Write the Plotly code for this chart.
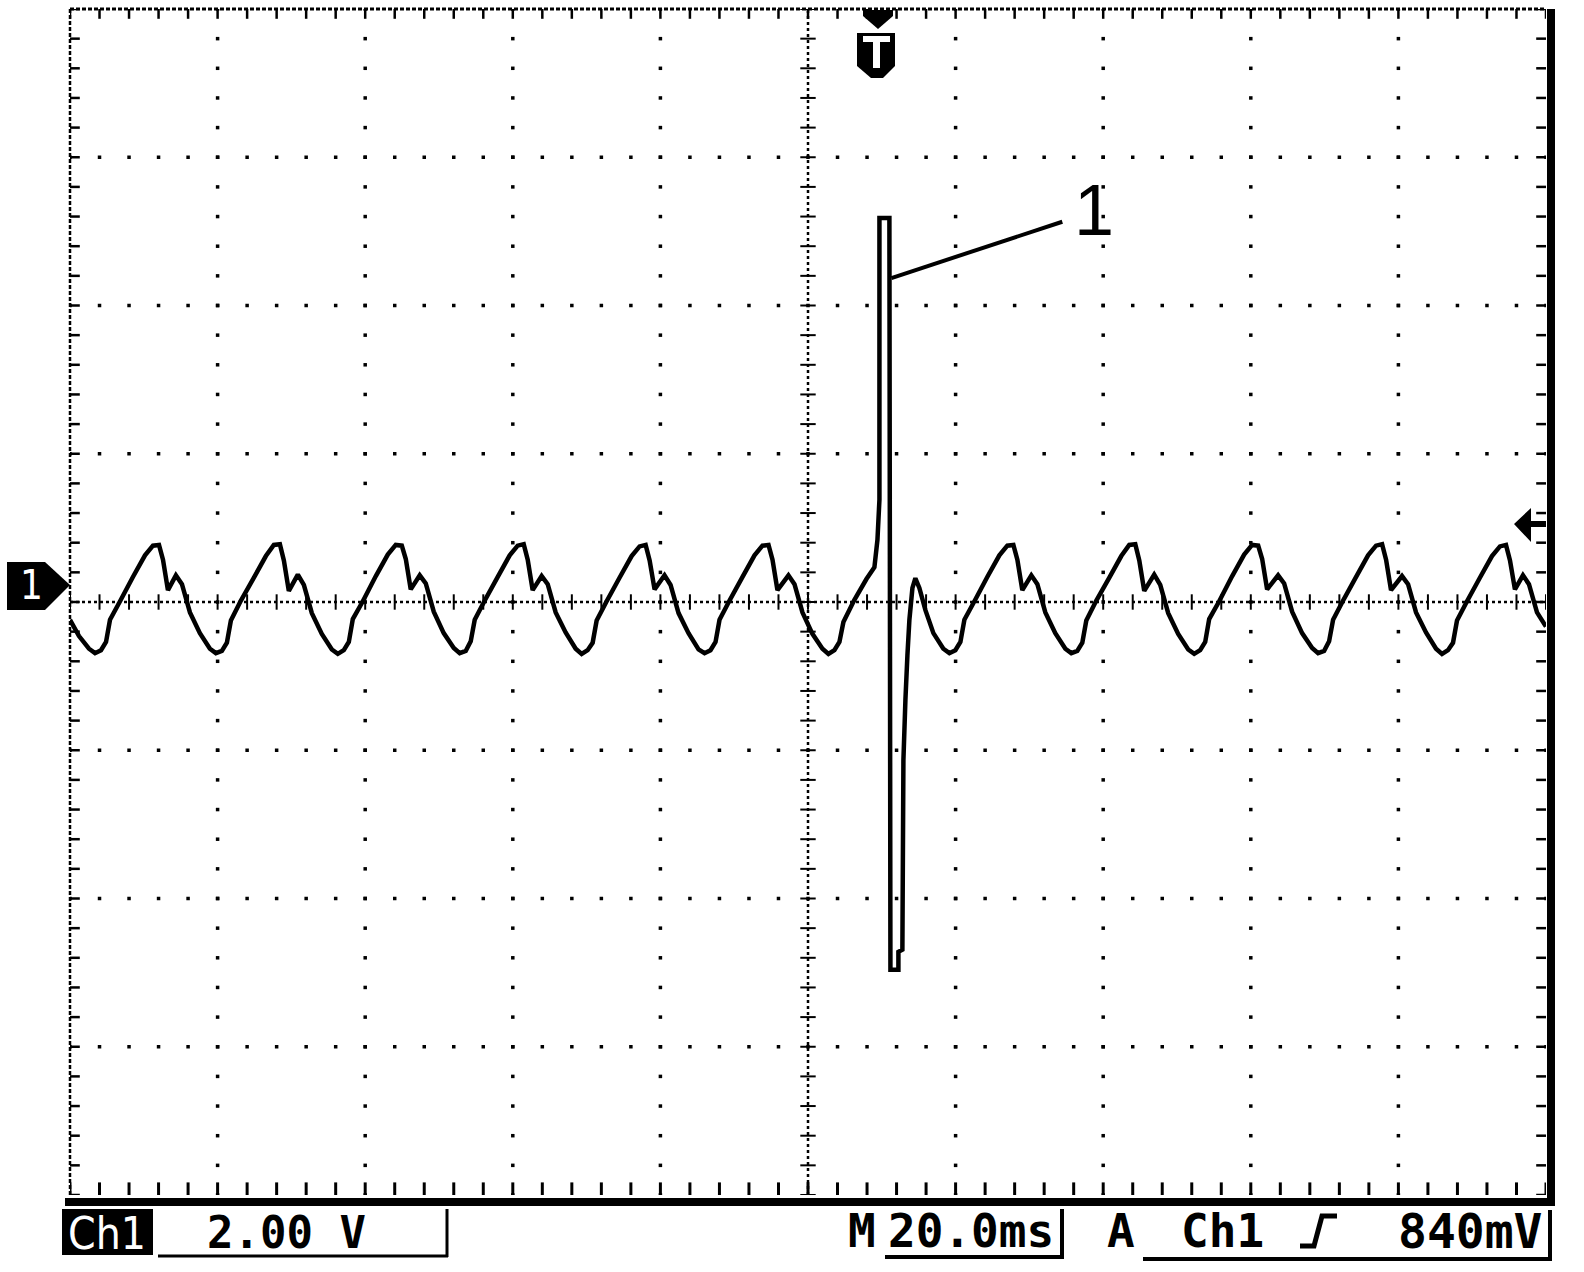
import plotly.graph_objects as go

TIME_DIV_MS = 20.0      # "M 20.0ms"
VOLT_DIV_V = 2.0        # "Ch1 2.00 V"
N_DIV_X = 10
N_DIV_Y = 8

# Channel 1 trace: time (ms from left edge of screen) and voltage (V)
t_ms = [
    0.00, 1.22, 2.57, 3.39,
    4.20, 4.88, 5.42, 6.78, 8.54, 10.16, 11.24, 12.06, 12.60, 13.27,
    14.35, 15.17, 16.25, 17.60, 18.96, 19.77,
    20.58, 21.26, 21.80, 23.16, 24.92, 26.54, 27.62, 28.44, 28.98, 29.65,
    30.87, 31.69, 32.77, 34.12, 35.48, 36.29,
    37.10, 37.78, 38.32, 39.68, 41.44, 43.06, 44.14, 44.96, 45.50, 46.17,
    47.39, 48.21, 49.29, 50.64, 52.00, 52.81,
    53.62, 54.30, 54.84, 56.20, 57.96, 59.58, 60.66, 61.48, 62.02, 62.69,
    63.91, 64.73, 65.81, 67.16, 68.52, 69.33,
    70.14, 70.82, 71.36, 72.72, 74.48, 76.10, 77.18, 78.00, 78.54, 79.21,
    80.56, 81.38, 82.46, 83.81, 85.17, 85.98,
    86.79, 87.47, 88.01, 89.37, 91.13, 92.75, 93.83, 94.65, 95.19, 95.86,
    97.35, 98.17, 99.25, 100.60, 101.96, 102.77,
    103.58, 104.26, 104.80, 106.29, 107.92, 109.00, 109.41, 109.68, 109.68,
    111.03, 111.17, 112.25, 112.25, 112.79, 112.93, 113.20, 113.47, 113.74,
    114.15, 114.55, 115.09, 115.91, 116.99, 118.34, 119.16,
    119.97, 120.65, 121.19, 122.55, 124.31, 125.93, 127.01, 127.83, 128.37, 129.04,
    130.26, 131.08, 132.16, 133.51, 134.87, 135.68,
    136.49, 137.17, 137.71, 139.07, 140.83, 142.45, 143.53, 144.35, 144.89, 145.56,
    146.91, 147.73, 148.81, 150.16, 151.52, 152.33,
    153.14, 153.82, 154.36, 155.72, 157.48, 159.10, 160.18, 161.00, 161.54, 162.21,
    163.70, 164.52, 165.60, 166.95, 168.31, 169.12,
    169.93, 170.61, 171.15, 172.51, 174.27, 175.89, 176.97, 177.79, 178.33, 179.00,
    180.49, 181.31, 182.39, 183.74, 185.10, 185.91,
    186.72, 187.40, 187.94, 189.30, 191.06, 192.68, 193.76, 194.58, 195.12, 195.79,
    196.88, 197.69, 198.78, 199.86, 200.00,
]
v_volt = [
    -0.24, -0.46, -0.63, -0.69,
    -0.65, -0.54, -0.24, 0.01, 0.34, 0.63, 0.76, 0.77, 0.57, 0.16,
    0.36, 0.24, -0.14, -0.42, -0.63, -0.69,
    -0.66, -0.55, -0.25, 0.02, 0.33, 0.62, 0.77, 0.78, 0.56, 0.15,
    0.37, 0.23, -0.15, -0.43, -0.64, -0.70,
    -0.65, -0.54, -0.23, 0.01, 0.35, 0.64, 0.77, 0.76, 0.58, 0.17,
    0.36, 0.25, -0.13, -0.42, -0.62, -0.69,
    -0.66, -0.53, -0.24, 0.02, 0.34, 0.63, 0.76, 0.78, 0.57, 0.16,
    0.35, 0.24, -0.14, -0.41, -0.63, -0.70,
    -0.65, -0.55, -0.25, 0.01, 0.33, 0.62, 0.75, 0.77, 0.56, 0.17,
    0.36, 0.23, -0.15, -0.42, -0.64, -0.69,
    -0.65, -0.54, -0.24, 0.02, 0.34, 0.63, 0.76, 0.77, 0.57, 0.16,
    0.36, 0.24, -0.14, -0.43, -0.63, -0.70,
    -0.65, -0.54, -0.27, 0.03, 0.31, 0.47, 0.84, 1.38, 5.18,
    5.18, -4.96, -4.96, -4.72, -4.69, -2.13, -1.32, -0.72, -0.24,
    0.19, 0.32, 0.19, -0.11, -0.42, -0.63, -0.69,
    -0.65, -0.54, -0.24, 0.01, 0.34, 0.63, 0.76, 0.77, 0.57, 0.16,
    0.36, 0.24, -0.14, -0.42, -0.63, -0.69,
    -0.66, -0.55, -0.25, 0.02, 0.33, 0.62, 0.77, 0.78, 0.56, 0.15,
    0.37, 0.23, -0.15, -0.43, -0.64, -0.70,
    -0.65, -0.54, -0.23, 0.01, 0.35, 0.64, 0.77, 0.76, 0.58, 0.17,
    0.36, 0.25, -0.13, -0.42, -0.62, -0.69,
    -0.66, -0.53, -0.24, 0.02, 0.34, 0.63, 0.76, 0.78, 0.57, 0.16,
    0.35, 0.24, -0.14, -0.41, -0.63, -0.70,
    -0.65, -0.55, -0.25, 0.01, 0.33, 0.62, 0.75, 0.77, 0.56, 0.17,
    0.36, 0.24, -0.14, -0.31, -0.33,
]

# callout "1" pointing at the spike (ms, V)
callout_label = "1"
callout_start = (111.30, 4.37)
callout_end = (134.46, 5.13)
callout_text_pos = (138.8, 5.29)

# status bar texts
ch_name = "Ch1"
ch_scale = "2.00 V"
time_prefix = "M"
time_scale = "20.0ms"
trig_mode = "A"
trig_source = "Ch1"
trig_level = "840mV"
ch_marker = "1"

# ---------------- layout geometry (page pixels) ----------------
W, H = 1584, 1272
ML, MR, MT, MB = 70, 38, 9, 77
OX, OY = ML, MT

X0, X1 = 0.0, TIME_DIV_MS * N_DIV_X
Y0, Y1 = -VOLT_DIV_V * N_DIV_Y / 2, VOLT_DIV_V * N_DIV_Y / 2
XC, YC = (X0 + X1) / 2, 0.0


def pxy(x, y):
    return x - OX, OY - y


def pshape(kind, x0, y0, x1, y1, **kw):
    a0, b0 = pxy(x0, y0)
    a1, b1 = pxy(x1, y1)
    return dict(type=kind, xref='paper', yref='paper', xsizemode='pixel', ysizemode='pixel',
                xanchor=0, yanchor=1, x0=a0, y0=b0, x1=a1, y1=b1, **kw)


def ppath(points, close=True, **kw):
    segs = []
    for i, (x, y) in enumerate(points):
        a, b = pxy(x, y)
        segs.append(('M' if i == 0 else 'L') + f'{a},{b}')
    return dict(type='path', xref='paper', yref='paper', xsizemode='pixel', ysizemode='pixel',
                xanchor=0, yanchor=1, path=' '.join(segs) + (' Z' if close else ''), **kw)


def ptext(text, x, y, size, color='black', family='DejaVu Sans Mono', weight='bold'):
    a, b = pxy(x, y)
    return dict(text=text, xref='paper', yref='paper', x=0, y=1, xshift=a, yshift=b,
                xanchor='center', yanchor='middle', showarrow=False,
                font=dict(family=family, size=size, color=color, weight=weight))


fig = go.Figure()

# ---------------- graticule ----------------
minor_x = [X0 + i * TIME_DIV_MS / 5 for i in range(N_DIV_X * 5 + 1)]
minor_y = [Y0 + j * VOLT_DIV_V / 5 for j in range(N_DIV_Y * 5 + 1)]
major_x = [X0 + i * TIME_DIV_MS for i in range(N_DIV_X + 1)]
major_y = [Y0 + j * VOLT_DIV_V for j in range(N_DIV_Y + 1)]

dx, dy = [], []
for yv in major_y[1:-1]:
    if abs(yv - YC) < 1e-9:
        continue
    for xv in minor_x:
        dx.append(xv); dy.append(yv)
for xv in major_x[1:-1]:
    if abs(xv - XC) < 1e-9:
        continue
    for yv in minor_y:
        dx.append(xv); dy.append(yv)
fig.add_trace(go.Scatter(x=dx, y=dy, mode='markers', hoverinfo='skip',
                         marker=dict(symbol='square', size=3.5, color='black', line=dict(width=0))))

# center-line ticks
fig.add_trace(go.Scatter(x=minor_x, y=[YC] * len(minor_x), mode='markers', hoverinfo='skip',
                         marker=dict(symbol='line-ns', size=11, line=dict(width=2, color='black'))))
fig.add_trace(go.Scatter(x=[XC] * len(minor_y), y=minor_y, mode='markers', hoverinfo='skip',
                         marker=dict(symbol='line-ew', size=11, line=dict(width=2, color='black'))))
# border ticks
fig.add_trace(go.Scatter(x=minor_x, y=[Y0] * len(minor_x),
                         mode='markers', hoverinfo='skip',
                         marker=dict(symbol='line-ns', size=18, line=dict(width=3, color='black'))))
fig.add_trace(go.Scatter(x=minor_x, y=[Y1] * len(minor_x),
                         mode='markers', hoverinfo='skip',
                         marker=dict(symbol='line-ns', size=14, line=dict(width=2.5, color='black'))))
fig.add_trace(go.Scatter(x=[X0] * len(minor_y) + [X1] * len(minor_y), y=minor_y + minor_y,
                         mode='markers', hoverinfo='skip',
                         marker=dict(symbol='line-ew', size=14, line=dict(width=2.5, color='black'))))

# ---------------- waveform ----------------
fig.add_trace(go.Scatter(x=t_ms, y=v_volt, mode='lines', hoverinfo='skip',
                         line=dict(color='black', width=4.5, simplify=False)))

shapes = []
# dotted center lines and left/top borders
shapes.append(dict(type='line', xref='paper', yref='paper', x0=0.5, x1=0.5, y0=0, y1=1,
                   line=dict(color='black', width=2.5, dash='3px,3px')))
shapes.append(dict(type='line', xref='paper', yref='paper', x0=0, x1=1, y0=0.5, y1=0.5,
                   line=dict(color='black', width=2.5, dash='3px,3px')))
shapes.append(dict(type='line', xref='paper', yref='paper', x0=0, x1=0, y0=0, y1=1,
                   line=dict(color='black', width=2.5, dash='4px,2px')))
shapes.append(dict(type='line', xref='paper', yref='paper', x0=0, x1=1, y0=1, y1=1,
                   line=dict(color='black', width=3, dash='4px,2px')))
# thick right & bottom frame
shapes.append(pshape('rect', 1547, 9, 1555, 1206, fillcolor='black', line=dict(width=0)))
shapes.append(pshape('rect', 65, 1198, 1555, 1206, fillcolor='black', line=dict(width=0)))

# callout line
shapes.append(dict(type='line', xref='x', yref='y', x0=callout_start[0], y0=callout_start[1],
                   x1=callout_end[0], y1=callout_end[1], line=dict(color='black', width=4)))

# trigger position marker "T"
shapes.append(ppath([(863, 10), (893, 10), (893, 16), (878, 29), (863, 16)],
                    fillcolor='black', line=dict(width=0)))
shapes.append(ppath([(857, 33), (895, 33), (895, 66), (883, 78), (871, 78), (857, 66)],
                    fillcolor='black', line=dict(width=0)))
shapes.append(pshape('rect', 863, 36, 890, 42, fillcolor='white', line=dict(width=0)))
shapes.append(pshape('rect', 873, 36, 880, 68, fillcolor='white', line=dict(width=0)))

# channel ground marker
shapes.append(ppath([(7, 562), (45, 562), (70, 585), (45, 610), (7, 610)],
                    fillcolor='black', line=dict(width=0)))
# trigger level arrow
shapes.append(ppath([(1514, 524), (1531, 508), (1531, 521), (1546, 521), (1546, 527),
                     (1531, 527), (1531, 542)], fillcolor='black', line=dict(width=0)))

# status bar
shapes.append(pshape('rect', 62, 1209, 153, 1255, fillcolor='black', line=dict(width=0)))
shapes.append(pshape('line', 158, 1256, 448, 1256, line=dict(color='black', width=3)))
shapes.append(pshape('line', 447, 1209, 447, 1257, line=dict(color='black', width=3)))
shapes.append(pshape('line', 885, 1257, 1064, 1257, line=dict(color='black', width=4)))
shapes.append(pshape('line', 1062, 1209, 1062, 1258, line=dict(color='black', width=4)))
shapes.append(pshape('line', 1143, 1259, 1552, 1259, line=dict(color='black', width=4)))
shapes.append(pshape('line', 1550, 1210, 1550, 1259, line=dict(color='black', width=4)))
shapes.append(ppath([(1300, 1246), (1314, 1246), (1322, 1216), (1337, 1216)], close=False,
                    line=dict(color='black', width=5)))

annotations = [
    dict(text=callout_label, xref='x', yref='y', x=callout_text_pos[0], y=callout_text_pos[1],
         showarrow=False, xanchor='center', yanchor='middle',
         font=dict(family='Liberation Sans, Arial, sans-serif', size=72, color='black')),
    ptext(ch_marker, 31, 585, 40, color='white', family='Liberation Sans Narrow, DejaVu Sans Condensed, sans-serif',
          weight='normal'),
    ptext(ch_name, 107, 1233, 44, color='white', weight='normal',
          family='Liberation Sans Narrow, DejaVu Sans Condensed, sans-serif'),
    ptext(ch_scale, 286, 1232, 44),
    ptext(time_prefix, 862, 1231, 46),
    ptext(time_scale, 971, 1231, 46),
    ptext(trig_mode, 1121, 1231, 46),
    ptext(trig_source, 1222, 1231, 46),
    ptext(trig_level, 1470, 1231, 48),
]

fig.update_layout(
    width=W, height=H, margin=dict(l=ML, r=MR, t=MT, b=MB, pad=0),
    paper_bgcolor='white', plot_bgcolor='white', showlegend=False,
    xaxis=dict(range=[X0, X1], showgrid=False, zeroline=False, showticklabels=False,
               ticks='', showline=False, fixedrange=True),
    yaxis=dict(range=[Y0, Y1], showgrid=False, zeroline=False, showticklabels=False,
               ticks='', showline=False, fixedrange=True),
    shapes=shapes, annotations=annotations,
)

fig.write_html("out.html", config={'displayModeBar': False},
               post_script="document.body.style.margin='0';document.body.style.overflow='hidden';")
